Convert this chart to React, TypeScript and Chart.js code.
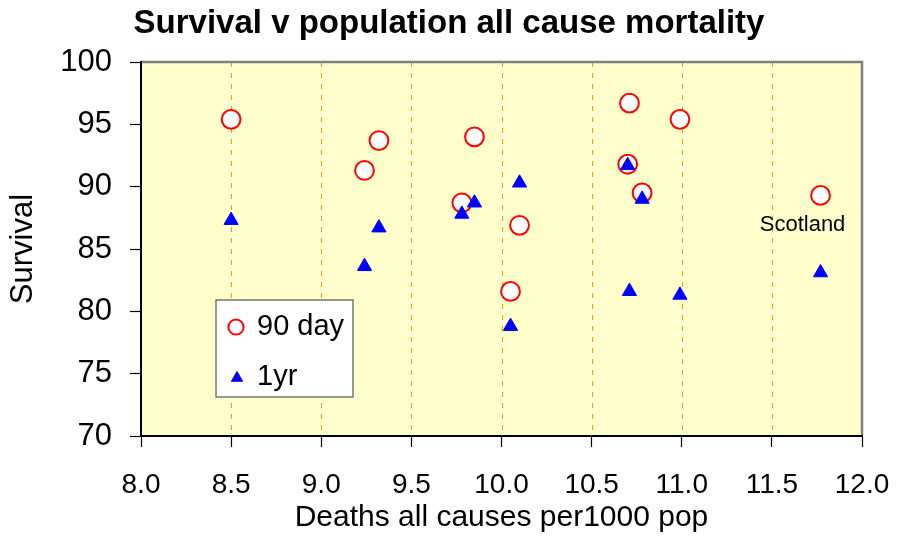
import React, { useEffect, useRef } from 'react';
import { Chart, registerables } from 'chart.js';

Chart.register(...registerables);

// ---- data ----
const deathsPer1000 = [8.5, 9.24, 9.32, 9.78, 9.85, 10.05, 10.1, 10.7, 10.71, 10.78, 10.99, 11.77];
const survival90day = [95.4, 91.3, 93.7, 88.7, 94.0, 81.6, 86.9, 91.8, 96.7, 89.5, 95.4, 89.3];
const survival1yr = [87.3, 83.6, 86.7, 87.8, 88.7, 78.8, 90.3, 91.7, 81.6, 89.0, 81.3, 83.1];
const seriesNames = ['90 day', '1yr'];
const annotationText = 'Scotland';
const annotationIndex = 11;
const xRange = [8, 12, 0.5];
const yRange = [70, 100, 5];
const titleText = 'Survival v population all cause mortality';
const xTitle = 'Deaths all causes per1000 pop';
const yTitle = 'Survival';

const FONT = "'Liberation Sans', Arial, Helvetica, sans-serif";

function drawTriangle(ctx: CanvasRenderingContext2D, x: number, y: number, r: number) {
  ctx.beginPath();
  ctx.moveTo(x, y - r);
  ctx.lineTo(x + r * Math.sin(Math.PI * 2 / 3), y - r * Math.cos(Math.PI * 2 / 3));
  ctx.lineTo(x + r * Math.sin(Math.PI * 4 / 3), y - r * Math.cos(Math.PI * 4 / 3));
  ctx.closePath();
}

const decorPlugin = {
  id: 'decor',
  beforeDraw(chart: any) {
    const { ctx, chartArea: a } = chart;
    ctx.save();
    ctx.fillStyle = '#FFFFCC';
    ctx.fillRect(a.left, a.top, a.right - a.left, a.bottom - a.top);
    const xs = chart.scales.x;
    xs.ticks.forEach((t: any) => {
      if (t.value <= xs.min || t.value >= xs.max) return;
      const px = Math.round(xs.getPixelForValue(t.value)) + 0.5;
      ctx.setLineDash([]);
      ctx.strokeStyle = '#FFFFFF';
      ctx.lineWidth = 1;
      ctx.beginPath();
      ctx.moveTo(px, a.top);
      ctx.lineTo(px, a.bottom);
      ctx.stroke();
      ctx.setLineDash([5, 6]);
      ctx.strokeStyle = '#FF9900';
      ctx.beginPath();
      ctx.moveTo(px, a.top);
      ctx.lineTo(px, a.bottom);
      ctx.stroke();
    });
    ctx.setLineDash([]);
    ctx.strokeStyle = '#808080';
    ctx.lineWidth = 2.5;
    ctx.beginPath();
    ctx.moveTo(a.left, a.top);
    ctx.lineTo(a.right, a.top);
    ctx.lineTo(a.right, a.bottom);
    ctx.stroke();
    ctx.restore();
  },
  afterDraw(chart: any) {
    const { ctx, chartArea: a } = chart;
    const xs = chart.scales.x;
    const ys = chart.scales.y;
    ctx.save();
    // annotation
    const px = xs.getPixelForValue(deathsPer1000[annotationIndex]);
    const py = ys.getPixelForValue(survival90day[annotationIndex]);
    ctx.fillStyle = '#000';
    ctx.font = `22px ${FONT}`;
    ctx.textAlign = 'center';
    ctx.textBaseline = 'middle';
    ctx.fillText(annotationText, px - 18, py + 30);

    // legend box
    const lx = a.left + 75;
    const ly = a.top + 238;
    const lw = 137;
    const lh = 97;
    ctx.fillStyle = '#FFFFFF';
    ctx.fillRect(lx, ly, lw, lh);
    ctx.strokeStyle = '#555555';
    ctx.lineWidth = 1.2;
    ctx.strokeRect(lx, ly, lw, lh);
    // circle marker
    ctx.beginPath();
    ctx.arc(lx + 20, ly + 27, 7.6, 0, Math.PI * 2);
    ctx.fillStyle = '#FFFFFF';
    ctx.fill();
    ctx.strokeStyle = '#FF0000';
    ctx.lineWidth = 2;
    ctx.stroke();
    // triangle marker
    drawTriangle(ctx, lx + 21, ly + 78, 6.5);
    ctx.fillStyle = '#0000FF';
    ctx.fill();
    ctx.strokeStyle = '#0000FF';
    ctx.lineWidth = 1;
    ctx.stroke();
    ctx.fillStyle = '#000';
    ctx.font = `29px ${FONT}`;
    ctx.textAlign = 'left';
    ctx.textBaseline = 'middle';
    ctx.fillText(seriesNames[0], lx + 41, ly + 27);
    ctx.fillText(seriesNames[1], lx + 41, ly + 77);
    ctx.restore();
  },
};

export default function App() {
  const canvasRef = useRef<HTMLCanvasElement | null>(null);

  useEffect(() => {
    if (!canvasRef.current) return;
    const pts90 = deathsPer1000.map((x, i) => ({ x, y: survival90day[i] }));
    const pts1 = deathsPer1000.map((x, i) => ({ x, y: survival1yr[i] }));
    const chart = new Chart(canvasRef.current, {
      type: 'scatter',
      data: {
        datasets: [
          {
            label: seriesNames[0],
            data: pts90,
            pointStyle: 'circle',
            pointRadius: 9.4,
            pointHoverRadius: 9.4,
            borderWidth: 2,
            borderColor: '#FF0000',
            backgroundColor: '#FFFFFF',
            order: 2,
          },
          {
            label: seriesNames[1],
            data: pts1,
            pointStyle: 'triangle',
            pointRadius: 8.2,
            pointHoverRadius: 8.2,
            borderWidth: 1,
            borderColor: '#0000FF',
            backgroundColor: '#0000FF',
            order: 1,
          },
        ],
      },
      options: {
        responsive: false,
        animation: false,
        events: [],
        layout: { padding: 0 },
        plugins: {
          legend: { display: false },
          tooltip: { enabled: false },
          title: {
            display: true,
            text: titleText,
            color: '#000',
            font: { family: FONT, size: 33, weight: 'bold' },
            padding: { top: 4.5, bottom: 17.9 },
          },
        },
        scales: {
          x: {
            type: 'linear',
            min: xRange[0],
            max: xRange[1],
            ticks: {
              stepSize: xRange[2],
              color: '#000',
              font: { family: FONT, size: 28 },
              padding: 21,
              callback: (v: any) => Number(v).toFixed(1),
              maxRotation: 0,
              autoSkip: false,
            },
            grid: {
              drawOnChartArea: false,
              drawTicks: true,
              tickLength: 11,
              tickColor: '#000',
              tickWidth: 1.2,
            },
            border: { display: true, color: '#000', width: 2 },
            title: {
              display: true,
              text: xTitle,
              color: '#000',
              font: { family: FONT, size: 30 },
              padding: { top: 0, bottom: 0.5 },
            },
            afterFit: (s: any) => {
              s.height = 100;
              s.paddingRight = 36;
            },
          },
          y: {
            type: 'linear',
            min: yRange[0],
            max: yRange[1],
            ticks: {
              stepSize: yRange[2],
              color: '#000',
              font: { family: FONT, size: 31 },
              padding: 18,
            },
            grid: {
              drawOnChartArea: false,
              drawTicks: true,
              tickLength: 11,
              tickColor: '#000',
              tickWidth: 1.2,
            },
            border: { display: true, color: '#000', width: 2 },
            title: {
              display: true,
              text: yTitle,
              color: '#000',
              font: { family: FONT, size: 31 },
              padding: { top: 4.4, bottom: 0 },
            },
            afterFit: (s: any) => {
              s.width = 141;
            },
          },
        },
      },
      plugins: [decorPlugin],
    } as any);
    return () => chart.destroy();
  }, []);

  return (
    <div style={{ position: 'absolute', left: 0, top: 0, width: 898, height: 536, background: '#fff' }}>
      <canvas ref={canvasRef} width={898} height={536} style={{ display: 'block' }} />
    </div>
  );
}
